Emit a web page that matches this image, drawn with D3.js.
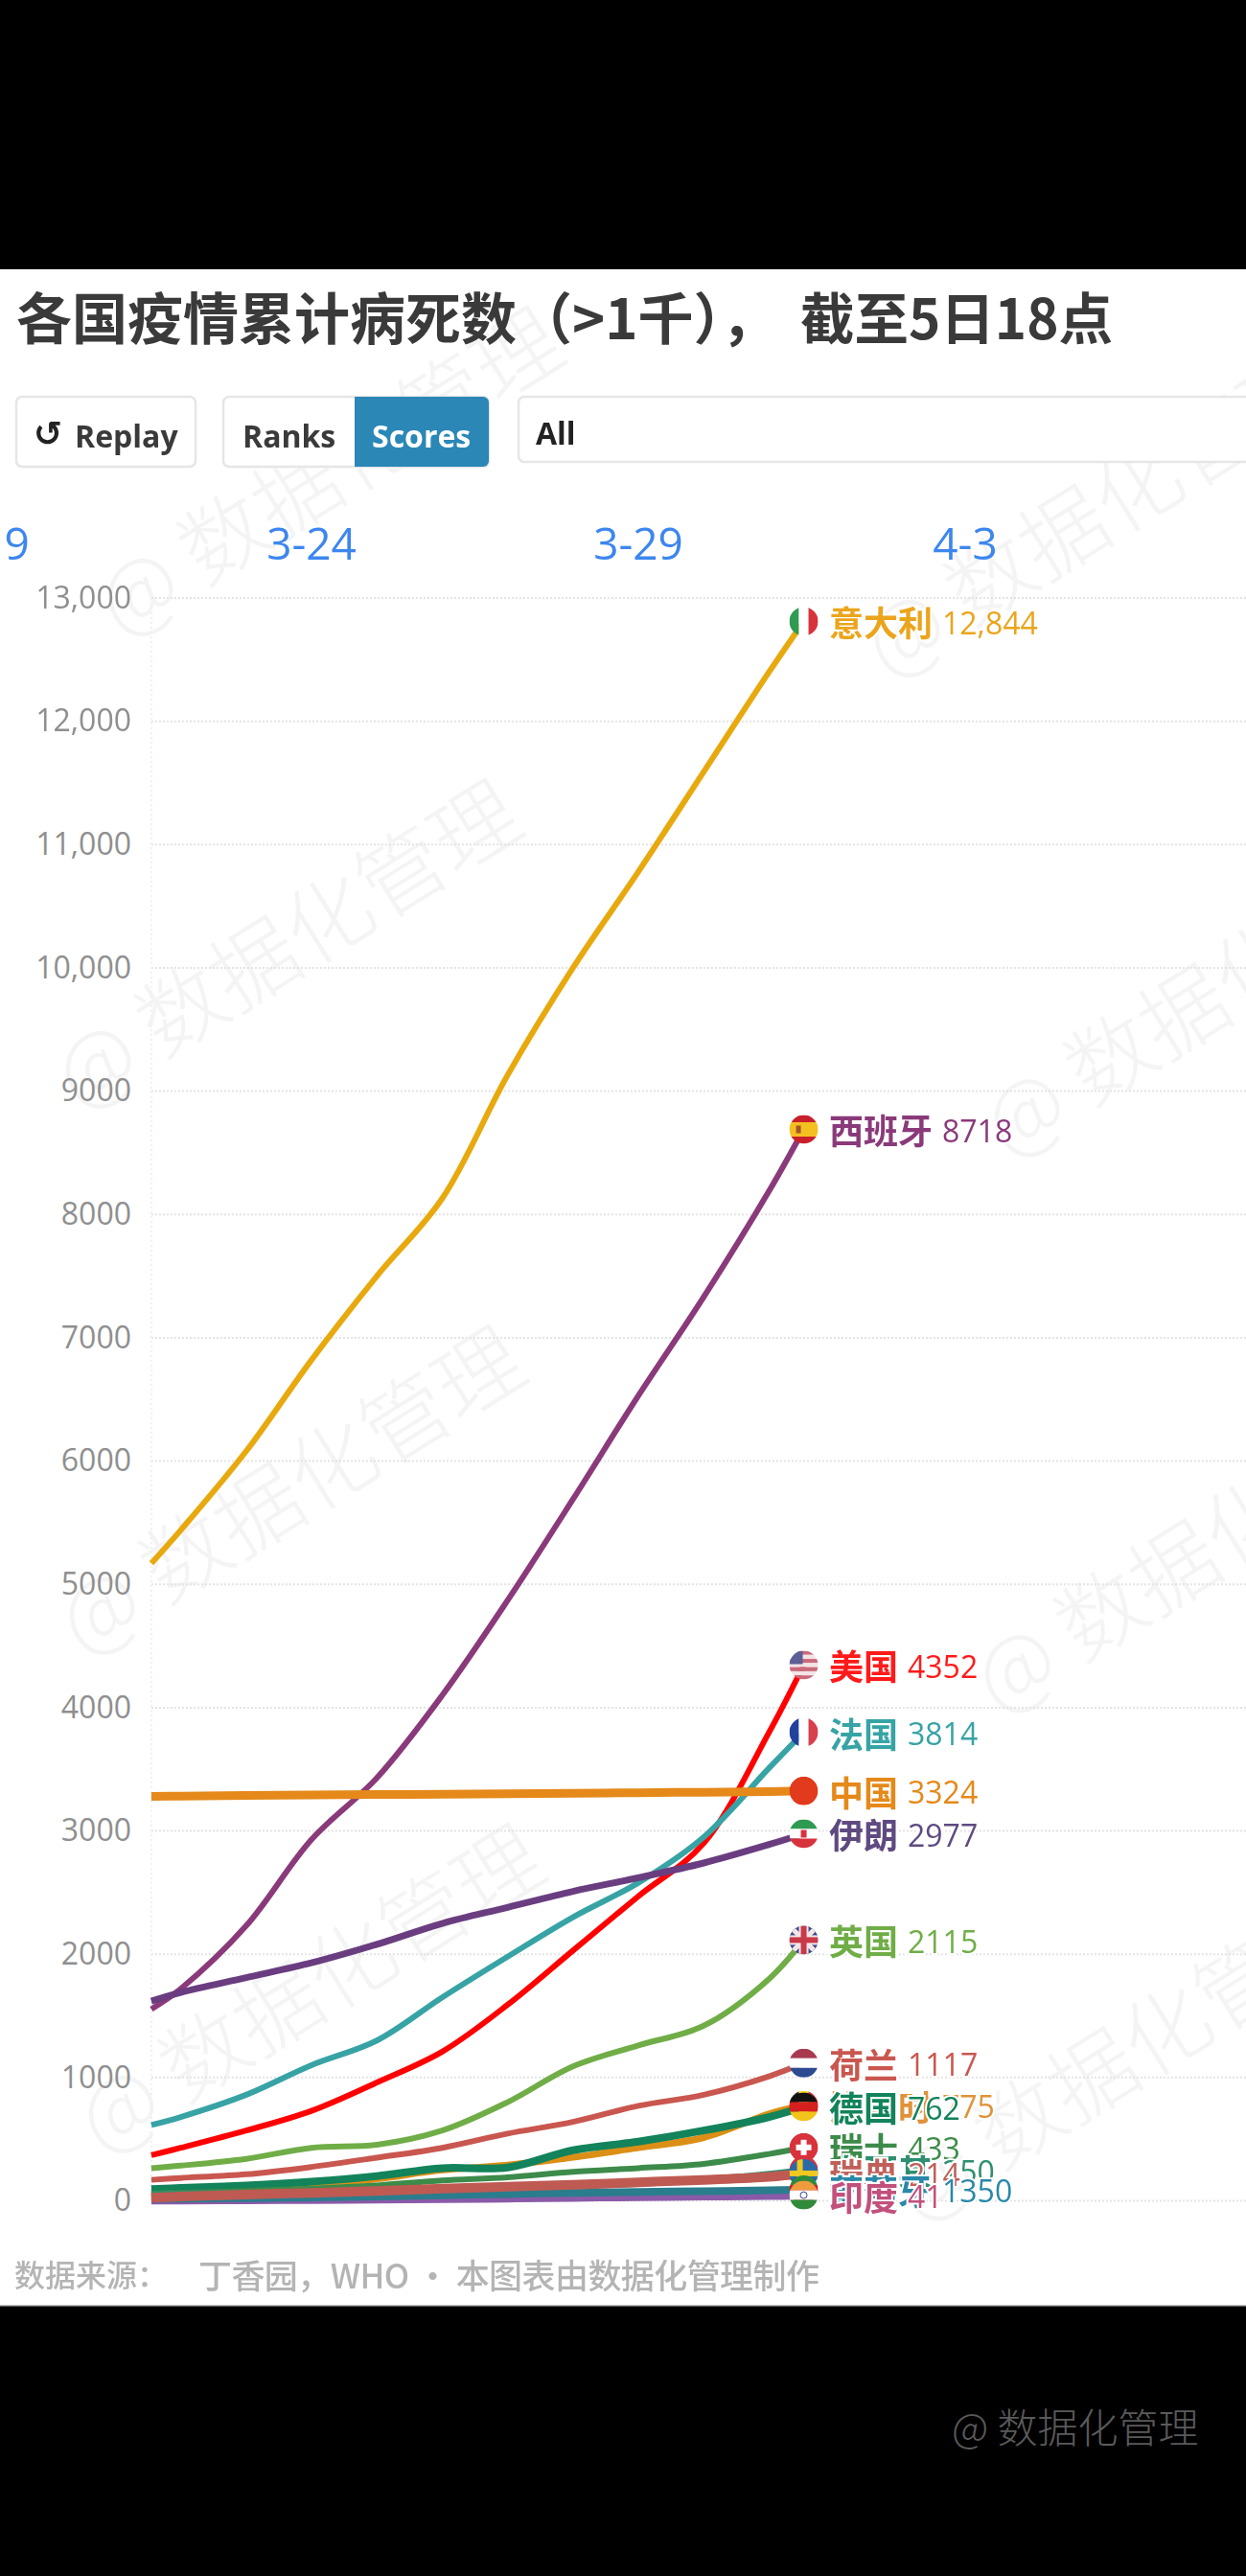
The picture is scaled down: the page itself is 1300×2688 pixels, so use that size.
<!DOCTYPE html>
<html lang="zh">
<head>
<meta charset="utf-8">
<title>各国疫情累计病死数</title>
<script src="https://cdn.jsdelivr.net/npm/d3@7/dist/d3.min.js"></script>
<style>
html,body{margin:0;padding:0;background:#000;}
svg{display:block;}
</style>
</head>
<body>
<script>
// ---- data ----
const days = [21.55, 22, 23, 24, 25, 26, 27, 28, 29, 30, 31, 31.53];
const dateTicks = [19, 24, 29, 34];
const dateLabels = ["3-19", "3-24", "3-29", "4-3"];
const yTicks = [0,1000,2000,3000,4000,5000,6000,7000,8000,9000,10000,11000,12000,13000];
const yTickLabels = ["0","1000","2000","3000","4000","5000","6000","7000","8000","9000","10,000","11,000","12,000","13,000"];

const italy = [5170,5440,6080,6820,7500,8130,9130,10000,10780,11590,12400,12810];
const spain = [1555,1720,2230,2930,3430,4100,4870,5690,6530,7330,8190,8690];
const usa = [370,430,570,730,960,1210,1590,2030,2470,2900,3800,4345];
const france = [615,680,860,1100,1300,1650,1980,2300,2580,2950,3510,3800];
const china = [3280,3283,3287,3291,3295,3298,3302,3306,3310,3314,3319,3324];
const iran = [1620,1690,1810,1930,2080,2250,2380,2510,2620,2740,2890,2977];
const uk = [265,285,340,430,455,570,800,1090,1260,1420,1800,2115];
const netherlands = [170,185,215,275,350,430,545,640,770,860,1010,1117];
const belgium = [60,67,75,122,178,250,289,353,431,513,705,775];
const germany = [95,105,125,155,200,265,270,410,480,570,680,762];
const swiss = [60,65,80,100,125,165,190,235,265,300,380,433];
const turkey = [50,55,60,70,80,95,105,120,140,170,215,250];
const sweden = [25,35,50,65,80,100,115,130,150,170,195,222];
const portugal = [15,18,22,28,35,45,55,65,72,78,85,90];
const india = [5,6,8,10,14,18,22,28,33,38,42,46];

const seriesNames = ["意大利","西班牙","美国","法国","中国","伊朗","英国","荷兰","比利时","德国","瑞士","土耳其","瑞典","葡萄牙","印度"];
const seriesValues = [italy,spain,usa,france,china,iran,uk,netherlands,belgium,germany,swiss,turkey,sweden,portugal,india];
const endLabels = ["12,844","8718","4352","3814","3324","2977","2115","1117","775","762","433","250","214","1350","41"];
const lineColors = ["#e8a90e","#8a3a7a","#ff0000","#38a3a5","#e5891a","#6a3d80","#70ad47","#c9574f","#dc8f16","#12835a","#3d8b4a","#2f8f70","#bf5a52","#2a7d8c","#8a5aa8"];
const labelColors = ["#eba51c","#8a3a7a","#ff1a1a","#38a3a5","#e5891a","#5f4a80","#70ad47","#c9574f","#e0923a","#12835a","#3d8b4a","#2f8f70","#c0605a","#2a88a8","#c2507c"];
const lineWidths = [6,6,6,6,9,7,6,6,7,8,6,7,10,8,9];
const lineDrawOrder = [0,1,2,3,4,5,6,7,8,9,10,11,14,13,12];
const flagCodes = ["it","es","us","fr","cn","ir","gb","nl","be","de","ch","tr","se","pt","in"];

const titleLead = "各国疫情累计病死数（>1千），";
const titleTail = "截至5日18点";
const watermarkSpots = [[340,487],[296,980],[300,1550],[320,2070],[1140,530],[1265,1030],[1255,1610],[1170,2140]];

// ---- page ----
const W = 1300, H = 2688;
const CJK = "'Noto Sans CJK SC','Noto Sans',sans-serif";
const LAT = "'Open Sans','Noto Sans CJK SC',sans-serif";
const svg = d3.select("body").append("svg").attr("width",W).attr("height",H).attr("viewBox",`0 0 ${W} ${H}`);
svg.append("rect").attr("width",W).attr("height",H).attr("fill","#000");

const panel = svg.append("g").style("filter","blur(0.7px)");
panel.append("rect").attr("x",0).attr("y",281).attr("width",W).attr("height",2125).attr("fill","#fff");

// watermark
panel.append("g").selectAll("text").data(watermarkSpots).join("text")
  .attr("transform",d=>`translate(${d[0]},${d[1]}) rotate(-32)`)
  .attr("text-anchor","middle").attr("dominant-baseline","central")
  .attr("font-family",CJK).attr("font-size",90).attr("font-weight",300)
  .attr("fill","#f4f4f4").text("@ 数据化管理");

// title
const titleGroup = panel.append("g").attr("font-family",CJK).attr("font-weight",700).attr("font-size",58).attr("fill","#3a3a3a");
titleGroup.append("text").attr("x",17).attr("y",329).attr("dominant-baseline","central").text(titleLead);
titleGroup.append("text").attr("x",835).attr("y",329).attr("dominant-baseline","central")
  .attr("textLength",326).attr("lengthAdjust","spacingAndGlyphs").text(titleTail);

// controls
const ctrl = panel.append("g");
function box(x,y,w,h,fill){
  ctrl.append("rect").attr("x",x).attr("y",y).attr("width",w).attr("height",h).attr("rx",6)
    .attr("fill",fill).attr("stroke","#e6e6e6").attr("stroke-width",2.5);
}
box(17,414,187,73,"#fff");
box(233,414,277,73,"#fff");
ctrl.append("path").attr("d","M370 414H504a6 6 0 0 1 6 6V481a6 6 0 0 1-6 6H370Z").attr("fill","#2b87b6");
box(541,414,790,68,"#fff");
function label(x,y,t,fill,size,fam){
  ctrl.append("text").attr("x",x).attr("y",y).attr("dominant-baseline","central")
    .attr("font-family",fam||LAT).attr("font-weight",700).attr("font-size",size||32).attr("fill",fill).text(t);
}
label(35,452,"↺","#222",36,"'DejaVu Sans'");
label(78,454,"Replay","#3a3a3a");
label(253,454,"Ranks","#3a3a3a");
label(388,454,"Scores","#fff");
label(559,451,"All","#222");

// scales
const x = d3.scaleLinear().domain([24,29]).range([325,666]);
const y = d3.scaleLinear().domain([0,13000]).range([2296.5,624]);

// date labels
panel.append("g").selectAll("text").data(dateTicks).join("text")
  .attr("x",d=>x(d)).attr("y",566).attr("text-anchor","middle").attr("dominant-baseline","central")
  .attr("font-family",LAT).attr("font-size",46).attr("fill","#3d86ee")
  .text((d,i)=>dateLabels[i]);

// y axis
const axis = d3.axisLeft(y).tickValues(yTicks).tickFormat((d,i)=>yTickLabels[i]).tickSize(0).tickPadding(0);
const gAxis = panel.append("g").attr("transform","translate(137,0)").call(axis);
gAxis.select(".domain").remove();
gAxis.selectAll("text").attr("font-family",LAT).attr("font-weight",500).attr("font-size",32).attr("fill","#8f8f8f");
panel.append("g").selectAll("line").data(yTicks).join("line")
  .attr("x1",x(days[0])).attr("x2",W).attr("y1",d=>y(d)).attr("y2",d=>y(d))
  .attr("stroke","#e3e3e3").attr("stroke-width",2).attr("stroke-dasharray","2 2");
panel.append("line").attr("x1",x(days[0])).attr("x2",x(days[0])).attr("y1",y(13000)).attr("y2",y(0))
  .attr("stroke","#f0f0f0").attr("stroke-width",2).attr("stroke-dasharray","2 3");

// lines
const line = d3.line().x((d,i)=>x(days[i])).y(d=>y(d)).curve(d3.curveCatmullRom.alpha(0.5));
panel.append("g").attr("fill","none").attr("stroke-linecap","butt").selectAll("path").data(lineDrawOrder).join("path")
  .attr("d",i=>line(seriesValues[i])).attr("stroke",i=>lineColors[i]).attr("stroke-width",i=>lineWidths[i]);

// flags
const FR = 15;
const defs = svg.append("defs");
defs.append("clipPath").attr("id","flagClip").append("circle").attr("r",FR);
const vBands = {it:["#2f9a52","#ffffff","#d8323c"],fr:["#23419e","#ffffff","#d8404c"],be:["#222","#f6d32d","#d8323c"]};
const hBands = {
  es:[["#c8202a",1],["#f4c020",2],["#c8202a",1]],
  ir:[["#2f9a52",1],["#ffffff",1],["#d8323c",1]],
  nl:[["#a83a50",1],["#ffffff",1],["#2c4a90",1]],
  de:[["#111111",1],["#d6201f",1],["#f2c41a",1]],
  in:[["#f09a3e",1],["#ffffff",1],["#2f8a3a",1]],
  us:[["#c96a7c",1],["#f3e4e6",1],["#c96a7c",1],["#f3e4e6",1],["#c96a7c",1],["#f3e4e6",1],["#c96a7c",1]],
  pt:[["#2f8a3a",1],["#c8202a",1],["#c8202a",1]]
};
function drawFlag(g,code){
  const c = g.append("g").attr("clip-path","url(#flagClip)");
  const r = (fx,fy,fw,fh,f)=>c.append("rect").attr("x",fx).attr("y",fy).attr("width",fw).attr("height",fh).attr("fill",f);
  const D = FR*2;
  if(vBands[code]){ vBands[code].forEach((f,i)=>r(-FR+i*D/3,-FR,D/3,D,f)); }
  else if(hBands[code]){
    const tot = d3.sum(hBands[code],b=>b[1]); let yy=-FR;
    hBands[code].forEach(b=>{const h=D*b[1]/tot; r(-FR,yy,D,h,b[0]); yy+=h;});
    if(code==="us") r(-FR,-FR,14,14,"#5c5f96");
    if(code==="es") r(-8,-4,5,8,"#a5542a");
    if(code==="ir") r(-3,-4,6,8,"#d8323c");
    if(code==="in") c.append("circle").attr("r",3.5).attr("fill","none").attr("stroke","#30408a").attr("stroke-width",1);
  }
  else if(code==="cn"){ c.append("circle").attr("r",FR).attr("fill","#e23a1c"); }
  else if(code==="tr"){ c.append("circle").attr("r",FR).attr("fill","#d8323c"); }
  else if(code==="ch"){ c.append("circle").attr("r",FR).attr("fill","#d8323c"); r(-8,-3,16,6,"#fff"); r(-3,-8,6,16,"#fff"); }
  else if(code==="se"){ r(-FR,-FR,D,D,"#2a6aa8"); r(-FR,-3,D,6,"#f0c820"); r(-7,-FR,6,D,"#f0c820"); }
  else if(code==="gb"){
    r(-FR,-FR,D,D,"#3a4a8a");
    c.append("path").attr("d",`M${-FR} ${-FR}L${FR} ${FR}M${FR} ${-FR}L${-FR} ${FR}`).attr("stroke","#f4e6e8").attr("stroke-width",5);
    r(-FR,-5,D,10,"#f4e6e8"); r(-5,-FR,10,D,"#f4e6e8");
    r(-FR,-3,D,6,"#c83a4a"); r(-3,-FR,6,D,"#c83a4a");
  }
}

// end-of-line labels: drawn largest first so the smaller ones cover them
const NAME_SIZE = 36, VAL_SIZE = 32, NAME_X = 865;
const endX = x(days[days.length-1]);
const ends = seriesNames.map((n,i)=>({n,i,v:seriesValues[i][days.length-1]}));
const lab = panel.append("g").selectAll("g").data(ends).join("g")
  .attr("transform",d=>`translate(0,${y(d.v)})`);
lab.each(function(d){
  const g = d3.select(this);
  const f = g.append("g").attr("transform",`translate(${endX},0)`);
  drawFlag(f,flagCodes[d.i]);
  g.append("text").attr("x",NAME_X).attr("y",0).attr("dominant-baseline","central")
    .attr("font-family",CJK).attr("font-weight",700).attr("font-size",NAME_SIZE)
    .attr("fill",labelColors[d.i]).attr("stroke","#fff").attr("stroke-width",4).attr("paint-order","stroke")
    .text(d.n);
  g.append("text").attr("x",NAME_X+NAME_SIZE*d.n.length+10).attr("y",1).attr("dominant-baseline","central")
    .attr("font-family",LAT).attr("font-size",VAL_SIZE)
    .attr("fill",labelColors[d.i]).attr("stroke","#fff").attr("stroke-width",4).attr("paint-order","stroke")
    .text(endLabels[d.i]);
});

// footer
panel.append("text").attr("x",15).attr("y",2372).attr("dominant-baseline","central")
  .attr("font-family",CJK).attr("font-weight",500).attr("font-size",32).attr("fill","#b4b4b4").text("数据来源：");
panel.append("text").attr("x",207).attr("y",2372).attr("dominant-baseline","central")
  .attr("font-family",CJK).attr("font-weight",500).attr("font-size",35).attr("textLength",648).attr("lengthAdjust","spacing")
  .attr("fill","#b4b4b4").text("丁香园，WHO • 本图表由数据化管理制作");
panel.append("rect").attr("x",0).attr("y",2405).attr("width",W).attr("height",1.5).attr("fill","#bbb");

// caption on the black band
svg.append("text").attr("x",993).attr("y",2530).attr("dominant-baseline","central")
  .attr("font-family",CJK).attr("font-weight",300).attr("font-size",42).attr("fill","#5a5a5a").text("@ 数据化管理");
</script>
</body>
</html>
